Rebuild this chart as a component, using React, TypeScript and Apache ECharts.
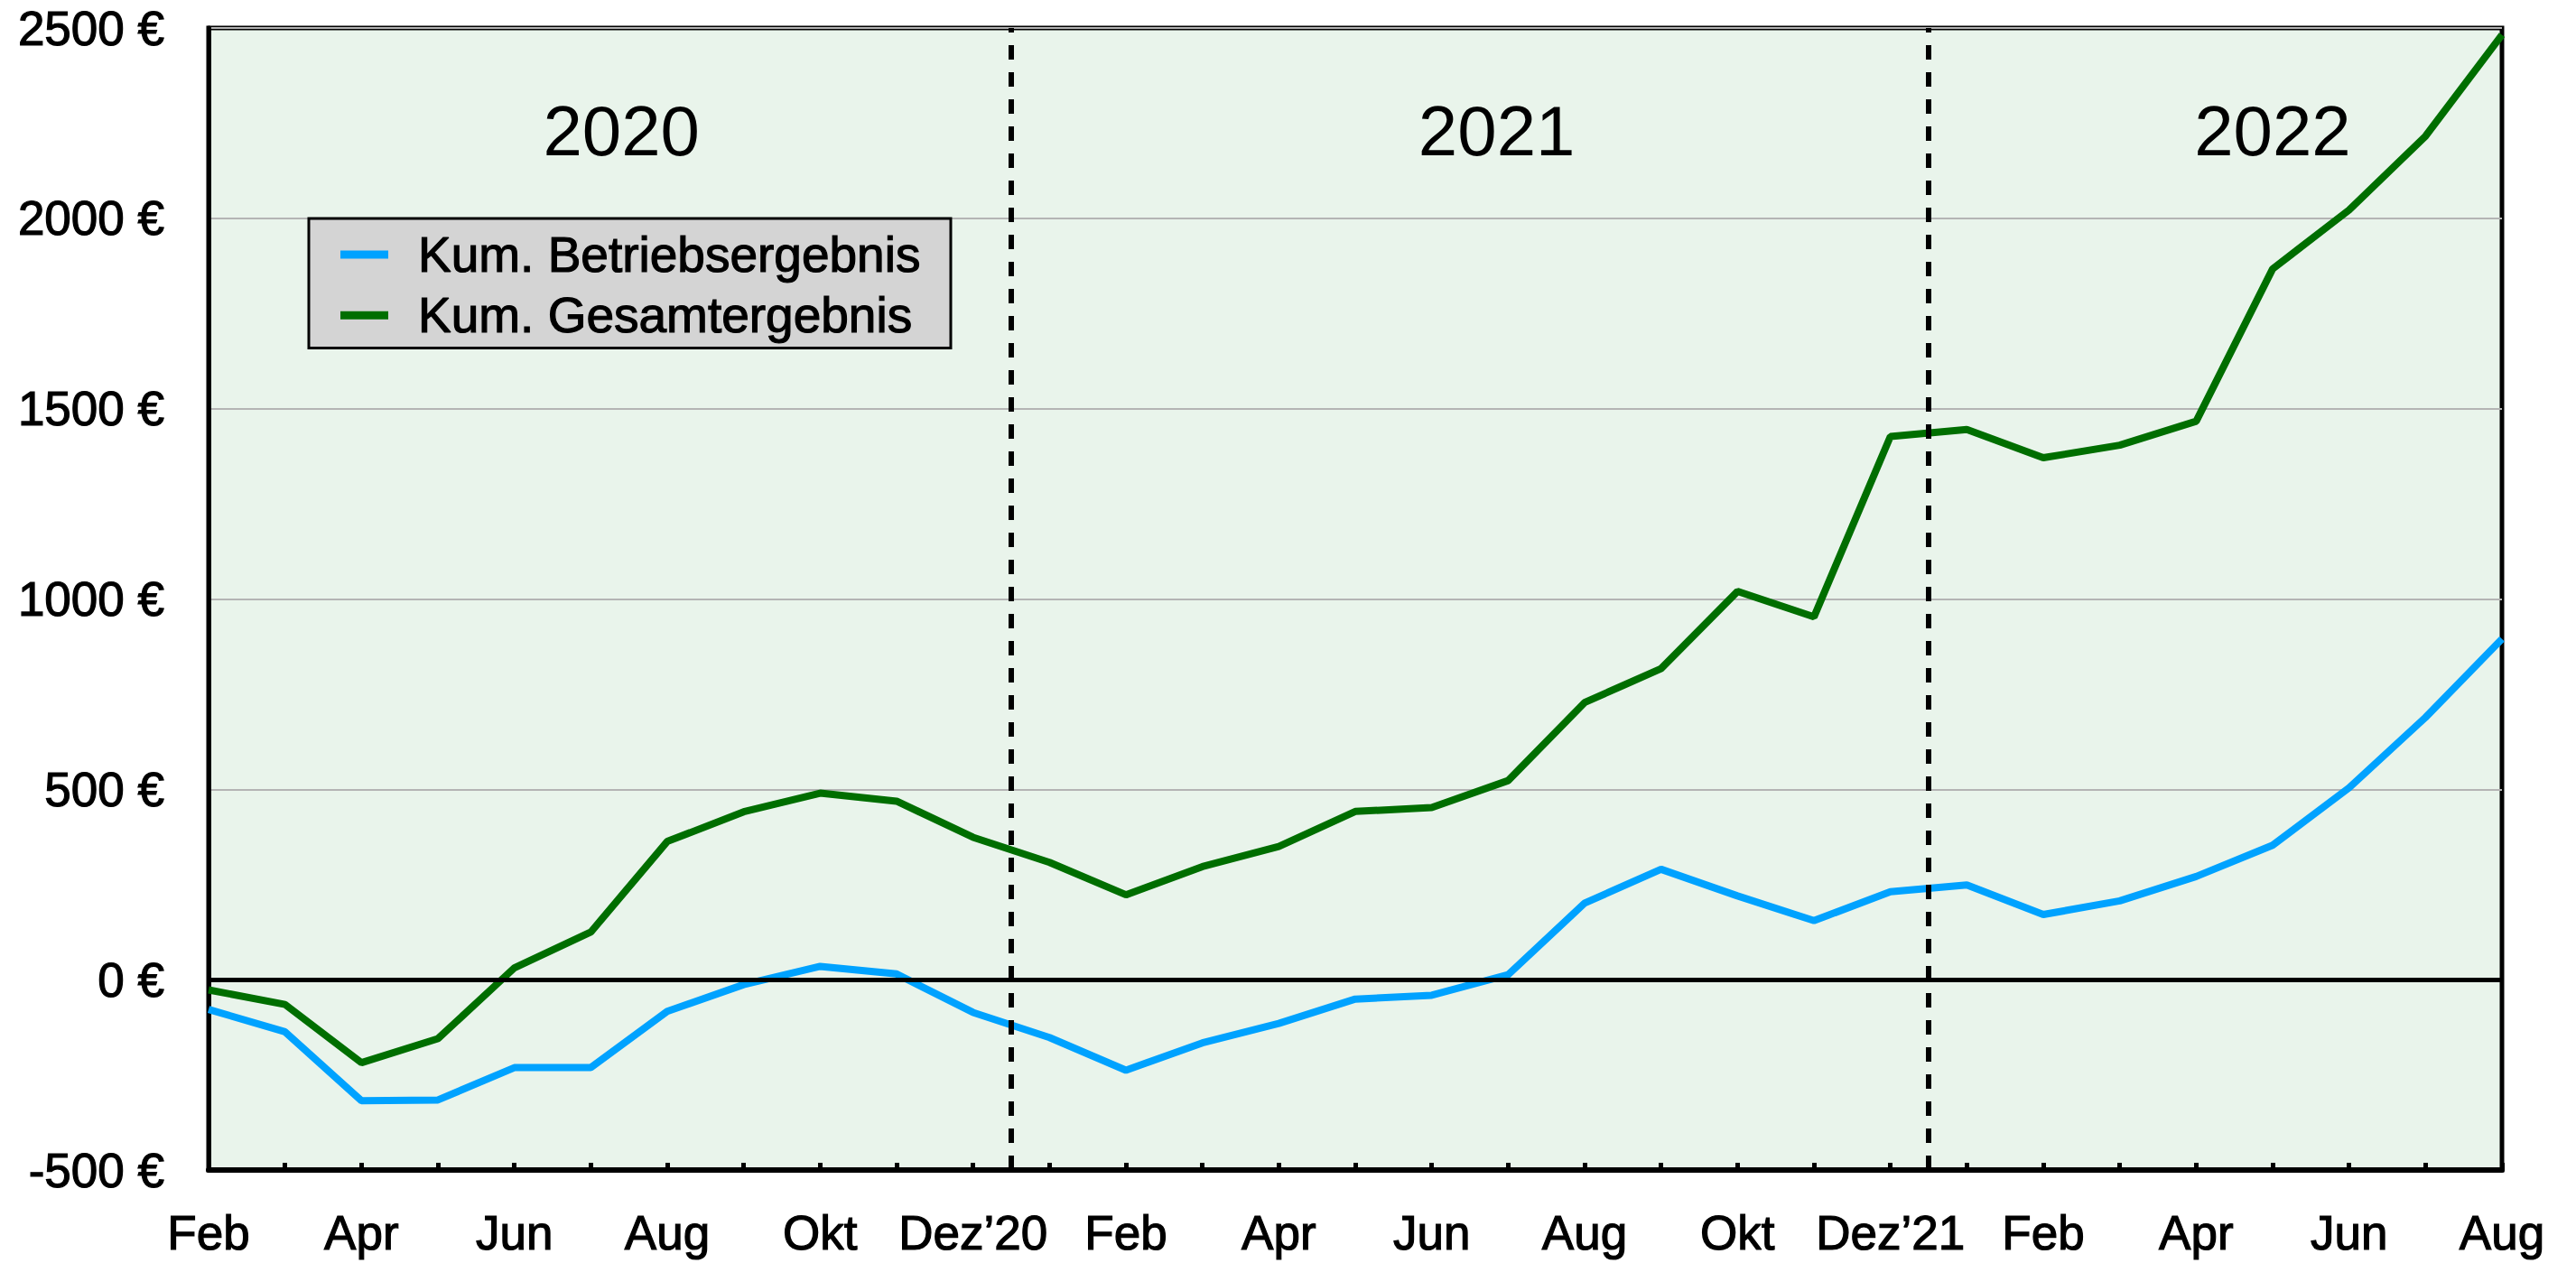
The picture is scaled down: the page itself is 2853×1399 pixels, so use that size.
import React, { useEffect, useRef } from "react";
import * as echarts from "echarts";

const monthLabels = [
  "Feb", "Mär", "Apr", "Mai", "Jun", "Jul", "Aug", "Sep", "Okt", "Nov", "Dez’20",
  "Jan", "Feb", "Mär", "Apr", "Mai", "Jun", "Jul", "Aug", "Sep", "Okt", "Nov", "Dez’21",
  "Jan", "Feb", "Mär", "Apr", "Mai", "Jun", "Jul", "Aug",
];

const betriebsergebnis = [
  -78, -137, -318, -316, -231, -231, -83, -13, 35, 15, -86,
  -152, -238, -166, -115, -51, -41, 13, 201, 290, 220, 155, 231,
  249, 171, 207, 271, 353, 504, 689, 895,
];

const gesamtergebnis = [
  -27, -65, -218, -155, 31, 125, 363, 441, 490, 469, 374,
  308, 223, 297, 350, 442, 452, 523, 728, 817, 1020, 953, 1427,
  1445, 1371, 1404, 1467, 1867, 2022, 2216, 2482,
];

const seriesNames = ["Kum. Betriebsergebnis", "Kum. Gesamtergebnis"];
const yearLabels = ["2020", "2021", "2022"];
const yearLabelX = [5.4, 16.85, 27.0];
const yearLabelY = 2230;
const yearBoundaries = [10.5, 22.5];

const FONT = "'Liberation Sans', Arial, Helvetica, sans-serif";

export default function App() {
  const ref = useRef<HTMLDivElement>(null);

  useEffect(() => {
    if (!ref.current) return;
    const chart = echarts.init(ref.current, undefined, { renderer: "svg" });
    const toPairs = (arr: number[]) => arr.map((v, i) => [i, v]);
    const heavy = { textBorderColor: "#000000", textBorderWidth: 1.2 };

    chart.setOption({
      animation: false,
      backgroundColor: "#ffffff",
      textStyle: { fontFamily: FONT },
      grid: {
        left: 231,
        right: 82,
        top: 31,
        bottom: 103,
        show: true,
        backgroundColor: "#e9f4eb",
        borderColor: "#000000",
        borderWidth: 5,
      },
      legend: {
        data: seriesNames,
        orient: "vertical",
        left: 342,
        top: 242,
        backgroundColor: "#d4d4d4",
        borderColor: "#000000",
        borderWidth: 3,
        borderRadius: 0,
        padding: [12, 33, 8, 35],
        itemGap: 11,
        itemWidth: 53,
        itemHeight: 9,
        icon: "rect",
        textStyle: {
          fontSize: 55,
          color: "#000000",
          fontFamily: FONT,
          lineHeight: 53,
          padding: [0, 0, 0, 28],
          ...heavy,
        },
      },
      xAxis: {
        type: "value",
        min: 0,
        max: 30,
        interval: 1,
        axisLine: { show: true, onZero: false, lineStyle: { color: "#000000", width: 6 } },
        axisTick: { show: true, inside: true, length: 8, lineStyle: { color: "#000000", width: 5 } },
        splitLine: { show: false },
        axisLabel: {
          fontSize: 53,
          color: "#000000",
          fontFamily: FONT,
          margin: 43,
          showMinLabel: true,
          showMaxLabel: true,
          formatter: (v: number) => (v % 2 === 0 ? monthLabels[v] : ""),
          ...heavy,
        },
      },
      yAxis: {
        type: "value",
        min: -500,
        max: 2500,
        interval: 500,
        axisLine: { show: true, lineStyle: { color: "#000000", width: 5 } },
        axisTick: { show: false },
        splitLine: { show: true, lineStyle: { color: "#b4b4b4", width: 2 } },
        axisLabel: {
          fontSize: 53,
          color: "#000000",
          fontFamily: FONT,
          margin: 49,
          formatter: (v: number) => `${v} €`,
          ...heavy,
        },
      },
      series: [
        {
          name: seriesNames[0],
          type: "line",
          data: toPairs(betriebsergebnis),
          symbol: "none",
          lineStyle: { color: "#00a2ff", width: 8 },
          itemStyle: { color: "#00a2ff" },
        },
        {
          name: seriesNames[1],
          type: "line",
          data: toPairs(gesamtergebnis),
          symbol: "none",
          lineStyle: { color: "#006e00", width: 8 },
          itemStyle: { color: "#006e00" },
        },
        {
          name: "years",
          type: "scatter",
          symbolSize: 0,
          data: yearLabels.map((name, i) => ({ name, value: [yearLabelX[i], yearLabelY] })),
          label: {
            show: true,
            position: [0, 0],
            align: "center",
            verticalAlign: "middle",
            formatter: (p: any) => p.name,
            fontSize: 78,
            color: "#000000",
            opacity: 1,
            fontFamily: FONT,
          },
          z: 5,
          silent: true,
          markLine: {
            silent: true,
            symbol: "none",
            label: { show: false },
            data: [
              ...yearBoundaries.map((x) => ({
                xAxis: x,
                lineStyle: { color: "#000000", width: 6, type: [16, 14] },
              })),
              { yAxis: 0, lineStyle: { color: "#000000", width: 5, type: "solid" } },
            ],
          },
        },
      ],
    });

    return () => chart.dispose();
  }, []);

  return (
    <div
      ref={ref}
      style={{ position: "fixed", left: 0, top: 0, width: 2853, height: 1399, background: "#ffffff" }}
    />
  );
}
